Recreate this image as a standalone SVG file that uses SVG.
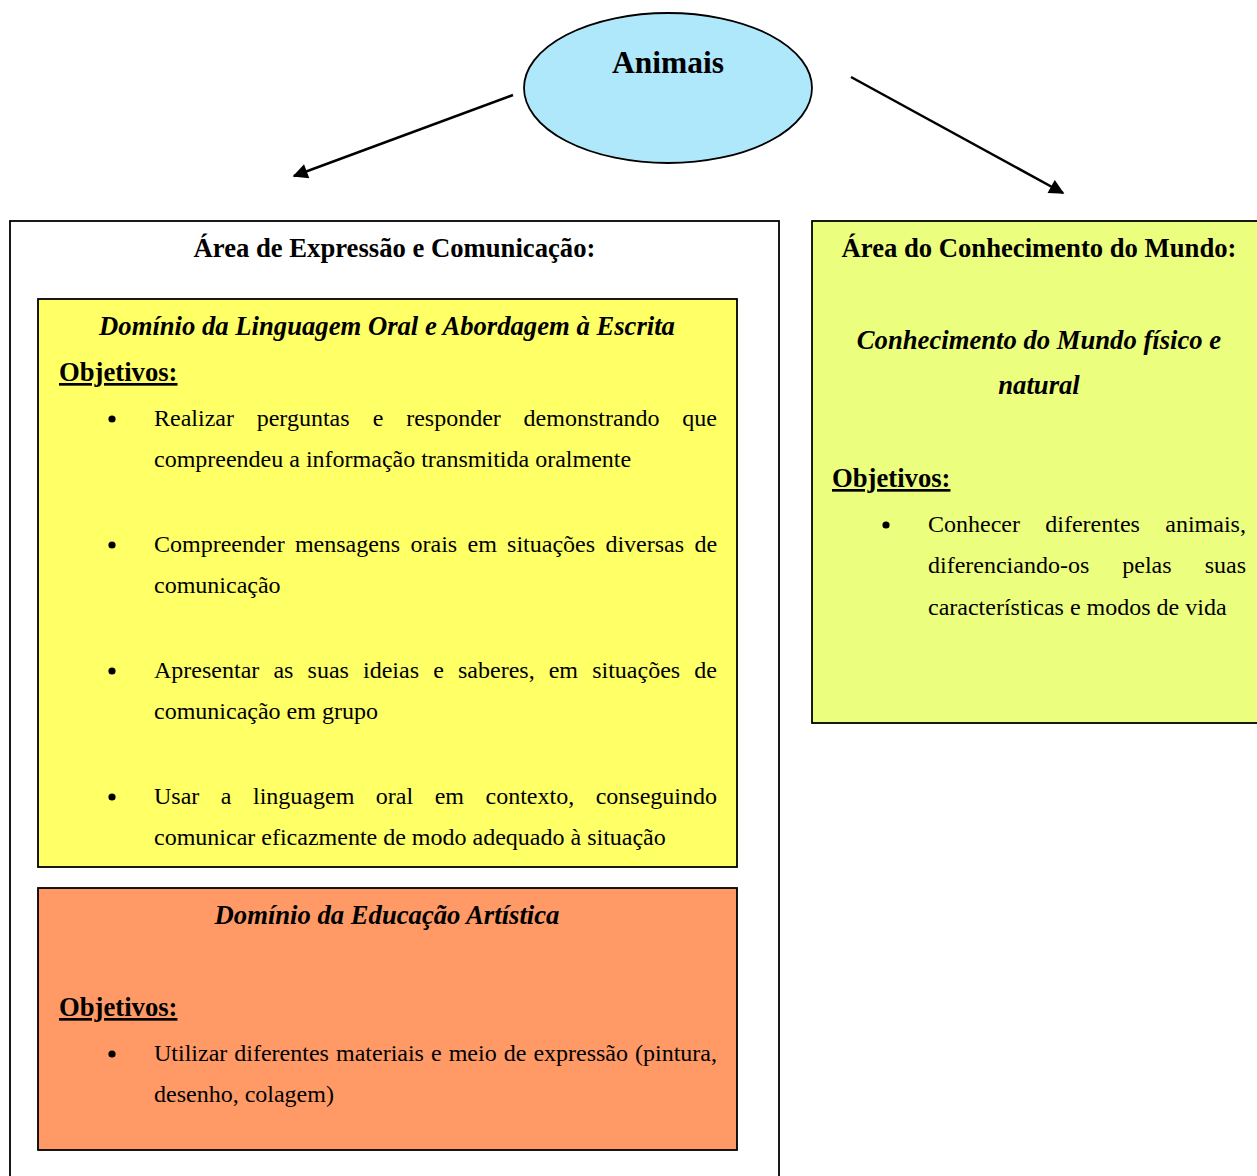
<svg xmlns="http://www.w3.org/2000/svg" width="1257" height="1176" viewBox="0 0 1257 1176">
<style>
text{font-family:"Liberation Serif","Times New Roman",serif;fill:#000}
.h{font-size:26.67px;font-weight:bold}
.hi{font-size:26.67px;font-weight:bold;font-style:italic}
.b{font-size:24px}
.u{text-decoration:underline}
.c{text-anchor:middle}
.box{stroke:#000;stroke-width:1.8}
.conn{stroke:#000;stroke-width:2.5;fill:none}
</style>
<defs>
<marker id="ah" viewBox="0 0 10 10" refX="9" refY="5" markerWidth="7" markerHeight="6" markerUnits="strokeWidth" orient="auto">
<path d="M0,0 L10,5 L0,10 z" fill="#000"/>
</marker>
</defs>
<rect width="1257" height="1176" fill="#fff"/>

<g id="connectors">
<line class="conn" x1="513" y1="95" x2="294" y2="176" marker-end="url(#ah)"/>
<line class="conn" x1="851" y1="77" x2="1063" y2="193" marker-end="url(#ah)"/>
</g>

<g id="animais">
<ellipse cx="668" cy="88" rx="144" ry="75" fill="#B0E8FB" stroke="#000" stroke-width="1.8"/>
<text x="668" y="73" class="c" style="font-size:31.5px;font-weight:bold">Animais</text>
</g>

<g id="area-expressao">
<rect class="box" x="10" y="221" width="769" height="970" fill="#fff"/>
<text x="394.5" y="257" class="h c">Área de Expressão e Comunicação:</text>
</g>

<g id="dominio-linguagem">
<rect class="box" x="38" y="299" width="699" height="568" fill="#FFFF66"/>
<text x="387" y="335" class="hi c">Domínio da Linguagem Oral e Abordagem à Escrita</text>
<text x="59" y="381" class="h u">Objetivos:</text>
<circle cx="112" cy="419" r="3.6"/>
<text y="426" class="b"><tspan x="154">Realizar</tspan><tspan x="256.7">perguntas</tspan><tspan x="372.8">e</tspan><tspan x="406.2">responder</tspan><tspan x="523.6">demonstrando</tspan><tspan x="682.3">que</tspan></text>
<text x="154" y="467" class="b">compreendeu a informação transmitida oralmente</text>
<circle cx="112" cy="545" r="3.6"/>
<text y="552" class="b"><tspan x="154">Compreender</tspan><tspan x="294.9">mensagens</tspan><tspan x="410.5">orais</tspan><tspan x="467.5">em</tspan><tspan x="507.1">situações</tspan><tspan x="605.4">diversas</tspan><tspan x="694.4">de</tspan></text>
<text x="154" y="593" class="b">comunicação</text>
<circle cx="112" cy="671" r="3.6"/>
<text y="678" class="b"><tspan x="154">Apresentar</tspan><tspan x="273.4">as</tspan><tspan x="307.6">suas</tspan><tspan x="363">ideias</tspan><tspan x="433.2">e</tspan><tspan x="458">saberes,</tspan><tspan x="548.7">em</tspan><tspan x="592.2">situações</tspan><tspan x="694.3">de</tspan></text>
<text x="154" y="719" class="b">comunicação em grupo</text>
<circle cx="112" cy="797" r="3.6"/>
<text y="804" class="b"><tspan x="154">Usar</tspan><tspan x="220.8">a</tspan><tspan x="253">linguagem</tspan><tspan x="375.8">oral</tspan><tspan x="434.7">em</tspan><tspan x="485.5">contexto,</tspan><tspan x="595.7">conseguindo</tspan></text>
<text x="154" y="845" class="b">comunicar eficazmente de modo adequado à situação</text>
</g>

<g id="dominio-artistica">
<rect class="box" x="38" y="888" width="699" height="262" fill="#FF9966"/>
<text x="387" y="924" class="hi c">Domínio da Educação Artística</text>
<text x="59" y="1016" class="h u">Objetivos:</text>
<circle cx="112" cy="1054" r="3.6"/>
<text y="1061" class="b"><tspan x="154">Utilizar</tspan><tspan x="234.3">diferentes</tspan><tspan x="336">materiais</tspan><tspan x="431">e</tspan><tspan x="448.7">meio</tspan><tspan x="503.7">de</tspan><tspan x="533.4">expressão</tspan><tspan x="635">(pintura,</tspan></text>
<text x="154" y="1102" class="b">desenho, colagem)</text>
</g>

<g id="area-conhecimento">
<rect class="box" x="812" y="221" width="460" height="502" fill="#ECFE7E"/>
<text x="1039" y="257" class="h c">Área do Conhecimento do Mundo:</text>
<text x="1039" y="349" class="hi c">Conhecimento do Mundo físico e</text>
<text x="1039" y="394" class="hi c">natural</text>
<text x="832" y="487" class="h u">Objetivos:</text>
<circle cx="886" cy="525" r="3.6"/>
<text y="532" class="b"><tspan x="928">Conhecer</tspan><tspan x="1045.3">diferentes</tspan><tspan x="1165.3">animais,</tspan></text>
<text y="573" class="b"><tspan x="928">diferenciando-os</tspan><tspan x="1122.3">pelas</tspan><tspan x="1204.7">suas</tspan></text>
<text x="928" y="615" class="b">características e modos de vida</text>
</g>
</svg>
